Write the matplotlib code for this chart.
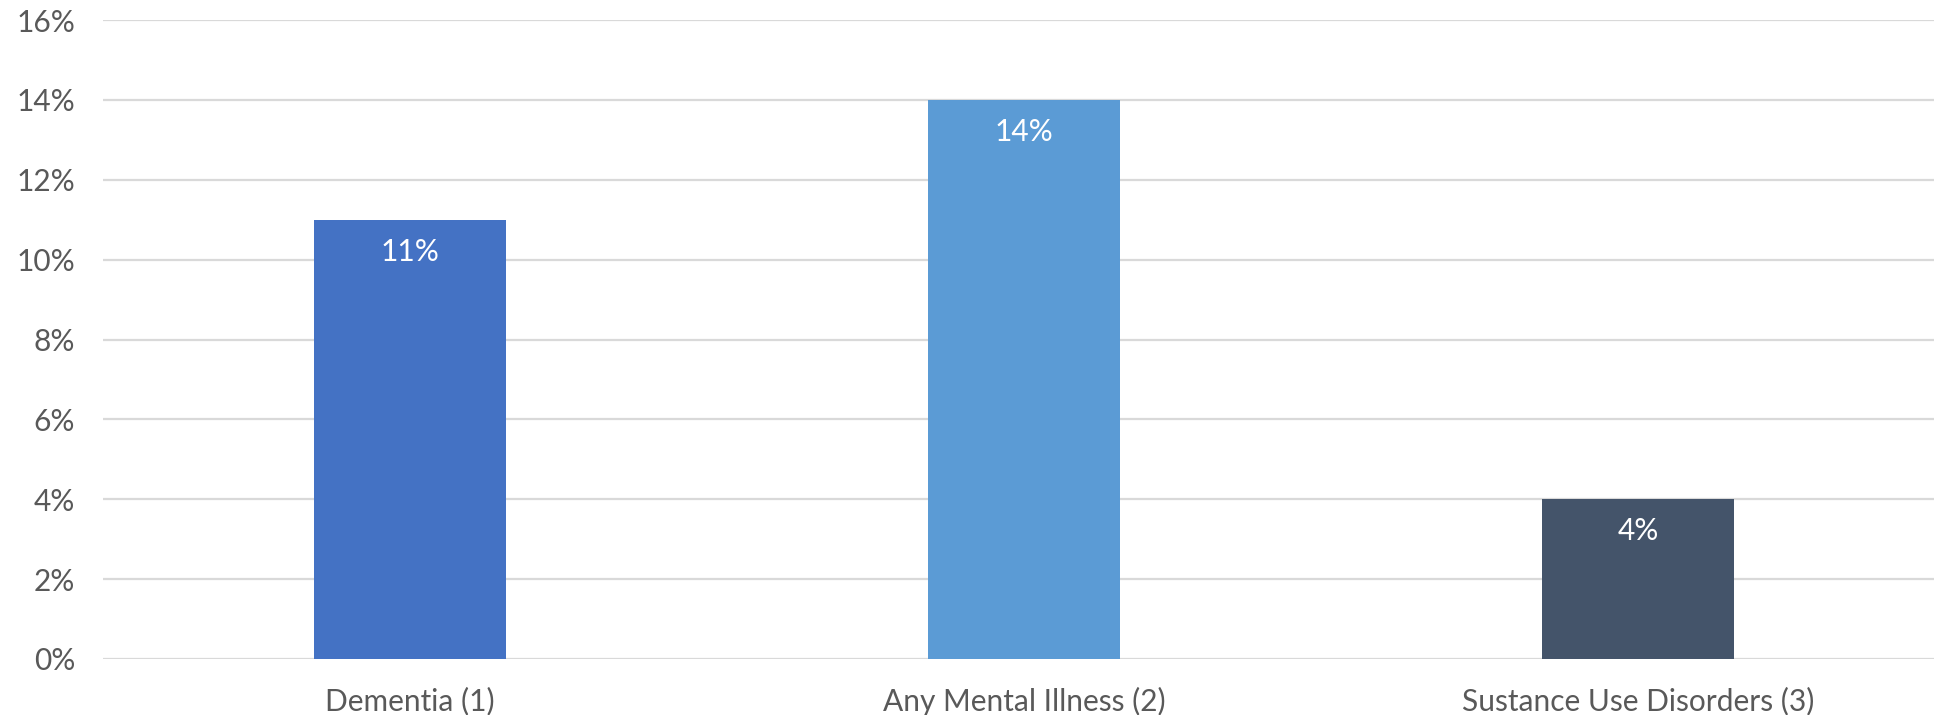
import matplotlib
matplotlib.use("Agg")
import matplotlib.pyplot as plt
from matplotlib.ticker import FuncFormatter, MultipleLocator
from matplotlib import transforms

categories = ["Dementia (1)", "Any Mental Illness (2)", "Sustance Use Disorders (3)"]
values = [0.11, 0.14, 0.04]
bar_colors = ["#4472C4", "#5B9BD5", "#44546A"]

W, H, DPI = 1934, 715, 100
fig = plt.figure(figsize=(W / DPI, H / DPI), dpi=DPI)
plt.rcParams["font.family"] = ["Lato", "DejaVu Sans"]

FS = 21.5

# axes box in pixels: left 103, right 1945 (runs slightly past the edge), bottom 659, top 20
left, right, bottom, top = 103, 1945, 659, 20
ax = fig.add_axes([left / W, 1 - bottom / H, (right - left) / W, (bottom - top) / H])

x = range(len(categories))
ax.bar(x, values, width=0.314, color=bar_colors, zorder=3)

ax.set_xlim(-0.5, len(categories) - 0.5)
ax.set_ylim(0, 0.16)
ax.yaxis.set_major_locator(MultipleLocator(0.02))
ax.yaxis.set_major_formatter(FuncFormatter(lambda v, _: f"{v * 100:.0f}%"))
ax.grid(axis="y", color="#D9D9D9", linewidth=1.6, zorder=0)
ax.set_axisbelow(True)

for s in ax.spines.values():
    s.set_visible(False)

ax.tick_params(axis="y", length=0, pad=20, labelsize=FS, labelcolor="#595959")
ax.tick_params(axis="x", length=0, pad=20, labelsize=FS, labelcolor="#595959")
ax.set_xticks(list(x))
ax.set_xticklabels(categories)

# value labels just inside the top of each bar
offset = transforms.offset_copy(ax.transData, fig=fig, x=0, y=-32 * 72 / DPI, units="points")
for xi, v in zip(x, values):
    ax.text(xi, v, f"{v * 100:.0f}%", transform=offset, ha="center", va="center",
            color="white", fontsize=FS)

fig.savefig("out.png", dpi=DPI)
